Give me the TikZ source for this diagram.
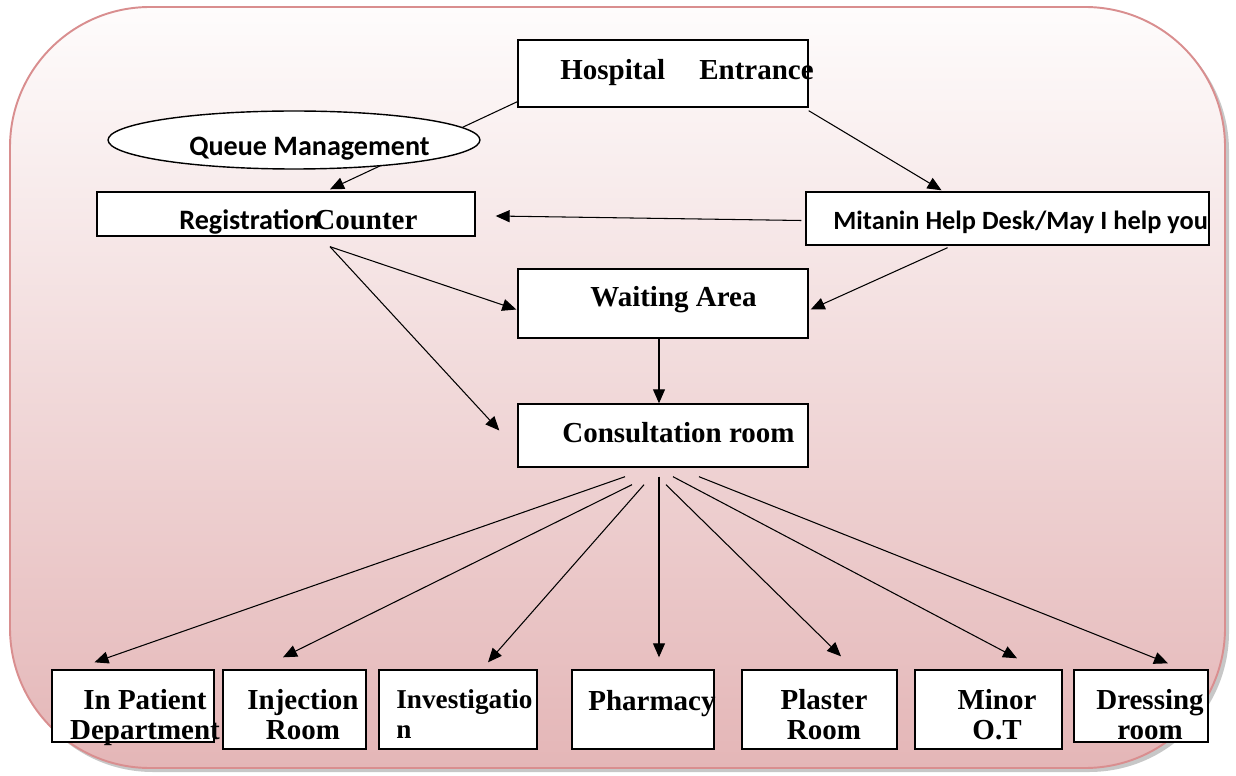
\documentclass[tikz,border=0pt]{standalone}
\usepackage{fontspec}
\setmainfont{Liberation Serif}
\newfontfamily\calfont{Carlito}
\usetikzlibrary{arrows.meta,shapes.geometric,calc}

\definecolor{paneltop}{RGB}{254,252,252}
\definecolor{panelbottom}{RGB}{228,182,183}
\definecolor{panelline}{RGB}{217,142,143}

\tikzset{
  roombox/.style={draw,fill=white,line width=0.8pt,inner sep=0pt},
  serifbold/.style={font=\fontsize{16.5}{17}\selectfont\bfseries,inner sep=0pt},
  sansbold/.style={font=\calfont\fontsize{16}{16}\selectfont\bfseries,inner sep=0pt},
  flow/.style={-{Triangle[length=0.28cm,width=0.24cm]},line width=0.6pt}
}

\begin{document}
\begin{tikzpicture}[x=0.02cm,y=-0.02cm]
\useasboundingbox (0,0) rectangle (1236,776);

% panel with shadow
\fill[black!22,rounded corners=2.8cm] (13,11) rectangle (1229,772);
\draw[panelline,line width=1.1pt,top color=paneltop,bottom color=panelbottom,rounded corners=2.8cm] (10,7) rectangle (1225,768);

% boxes
\node[roombox,minimum width=5.8cm,minimum height=1.34cm] (entr) at (663,73.5) {};
\node[roombox,minimum width=7.56cm,minimum height=0.88cm] (reg) at (286,214) {};
\node[roombox,minimum width=8.06cm,minimum height=1.06cm] (help) at (1007.5,218.5) {};
\node[roombox,minimum width=5.8cm,minimum height=1.38cm] (wait) at (663,303.5) {};
\node[roombox,minimum width=5.8cm,minimum height=1.26cm] (cons) at (663,435.5) {};

\foreach \name/\cx/\cy/\w/\h in {inpat/133/706/3.24/1.44, inj/294.5/709.5/2.86/1.58,
    inv/458/709.5/3.16/1.58, pharm/643/709.5/2.84/1.58, plast/819.5/709.5/3.1/1.58,
    minor/988.5/709.5/2.94/1.58, dress/1141/706/2.68/1.44}
  \node[roombox,minimum width=\w cm,minimum height=\h cm] (\name) at (\cx,\cy) {};

% connectors
\draw[flow] ($(entr.south west)+(0,-6)$) -- ($(reg.north)+(44,-2)$);
\draw[flow] ($(entr.south east)+(0,3)$) -- ($(help.north)+(-66,-1)$);
\draw[flow] ($(help.west)+(-4,2)$) -- ($(reg.east)+(20,2)$);
\draw[flow] ($(reg.south)+(44,10)$) -- ($(wait.west)+(-1,6)$);
\draw[flow] ($(reg.south)+(44,10)$) -- ($(cons.west)+(-18,-5)$);
\draw[flow] ($(help.south)+(-60,2)$) -- ($(wait.east)+(2,6)$);
\draw[flow] ($(wait.south)+(-4,0)$) -- ($(cons.north)+(-4,0)$);

\foreach \tgt/\sx/\sy/\ex/\ey in {inpat/-38/9/-38.5/-7, inj/-31/17/-11.5/-12,
    inv/-19/17/30/-7, pharm/-4/9/16/-12, plast/3/17/21.5/-13,
    minor/10/9/28.5/-11, dress/36/9/27/-6}
  \draw[flow] ($(cons.south)+(\sx,\sy)$) -- ($(\tgt.north)+(\ex,\ey)$);

\node[ellipse,draw,fill=white,line width=0.8pt,minimum width=7.44cm,minimum height=1.16cm] (queue) at (294,140) {};

% texts
\node[serifbold,anchor=base west] (entrtxta) at (560,80) {Hospital};
\node[serifbold,anchor=base west] (entrtxtb) at (699,80) {Entrance};
\node[sansbold,anchor=base west] (queuetxt) at (189,156) {Queue Management};
\node[sansbold,anchor=base west] (regtxta) at (179,230) {Registration};
\node[serifbold,anchor=base west] (regtxtb) at (314,230) {Counter};
\node[sansbold,font=\calfont\fontsize{15}{15}\selectfont\bfseries,anchor=base west] (helptxt) at (833,230) {Mitanin Help Desk/May I help you};
\node[serifbold,anchor=base west] (waittxt) at (590,307) {Waiting Area};
\node[serifbold,anchor=base west] (constxt) at (562,442) {Consultation room};

\node[serifbold,align=center,anchor=north] (inpattxt) at (145,689) {In Patient\\Department};
\node[serifbold,align=center,anchor=north] (injtxt) at (303,689) {Injection\\Room};
\node[serifbold,font=\fontsize{15.5}{17}\selectfont\bfseries,align=left,anchor=north west] (invtxt) at (396,689) {Investigatio\\n};
\node[serifbold,anchor=base west] (pharmtxt) at (588,710) {Pharmacy};
\node[serifbold,align=center,anchor=north] (plasttxt) at (824,689) {Plaster\\Room};
\node[serifbold,align=center,anchor=north] (minortxt) at (997,689) {Minor\\O.T};
\node[serifbold,align=center,anchor=north] (dresstxt) at (1150,689) {Dressing\\room};

\end{tikzpicture}
\end{document}
